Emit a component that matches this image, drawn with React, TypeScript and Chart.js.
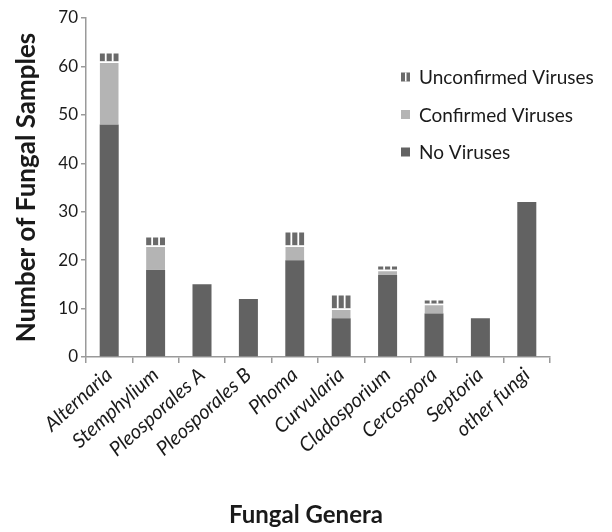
import React, { useEffect, useRef } from "react";
import { Chart, registerables } from "chart.js";

Chart.register(...registerables);

const categories = [
  "Alternaria",
  "Stemphylium",
  "Pleosporales A",
  "Pleosporales B",
  "Phoma",
  "Curvularia",
  "Cladosporium",
  "Cercospora",
  "Septoria",
  "other fungi",
];
const noViruses = [48, 18, 15, 12, 20, 8, 17, 9, 8, 32];
const confirmedViruses = [13, 5, 0, 0, 3, 2, 1, 2, 0, 0];
const unconfirmedViruses = [2, 2, 0, 0, 3, 3, 1, 1, 0, 0];
const yTicks = [0, 10, 20, 30, 40, 50, 60, 70];

const DARK = "#626262";
const LIGHT = "#b4b4b4";
const STRIPE = "#6a6a6a";
const AXIS = "#9a9a9a";
const FONT = "Lato, 'Open Sans', sans-serif";

const stripePlugin = {
  id: "stripes",
  afterDatasetsDraw(chart: any) {
    const meta = chart.getDatasetMeta(2);
    const ctx = chart.ctx;
    ctx.save();
    ctx.fillStyle = "#ffffff";
    meta.data.forEach((bar: any, i: number) => {
      if (!unconfirmedViruses[i]) return;
      const { x, y, base, width } = bar.getProps(["x", "y", "base", "width"], true);
      const left = x - width / 2;
      const gap = 1.8;
      const stripe = (width - 2 * gap) / 3;
      for (let k = 1; k <= 2; k++) {
        const gx = left + k * stripe + (k - 1) * gap;
        ctx.fillRect(gx, y, gap, base - y);
      }
    });
    ctx.restore();
  },
};

const legendPlugin = {
  id: "customLegend",
  afterDraw(chart: any) {
    const ctx = chart.ctx;
    const area = chart.chartArea;
    const items = [
      { label: "Unconfirmed Viruses", color: STRIPE, striped: true },
      { label: "Confirmed Viruses", color: LIGHT, striped: false },
      { label: "No Viruses", color: DARK, striped: false },
    ];
    const bx = area.left + 315;
    const tx = area.left + 333;
    const y0 = area.top + 59;
    const dy = 37.5;
    ctx.save();
    ctx.font = `19px ${FONT}`;
    ctx.textBaseline = "middle";
    ctx.textAlign = "left";
    items.forEach((it, i) => {
      const cy = y0 + i * dy;
      ctx.fillStyle = it.color;
      ctx.fillRect(bx, cy - 4.5, 9, 9);
      if (it.striped) {
        ctx.fillStyle = "#fff";
        ctx.fillRect(bx + 4, cy - 4.5, 1.5, 9);
      }
      ctx.fillStyle = "#1a1a1a";
      ctx.fillText(it.label, tx, cy + 1);
    });
    // x-axis title, centred on the chart
    ctx.font = `bold 24px ${FONT}`;
    ctx.textAlign = "center";
    ctx.textBaseline = "middle";
    ctx.fillStyle = "#1a1a1a";
    ctx.fillText("Fungal Genera", chart.width / 2, chart.height - 17);
    ctx.restore();
  },
};

export default function App() {
  const ref = useRef<HTMLCanvasElement>(null);
  useEffect(() => {
    document.body.style.margin = "0";
    const segBorder = { top: 1.5, bottom: 0, left: 0, right: 0 };
    const chart = new Chart(ref.current!, {
      type: "bar",
      data: {
        labels: categories,
        datasets: [
          {
            label: "No Viruses",
            data: noViruses,
            backgroundColor: DARK,
            borderColor: "#ffffff",
            borderWidth: 0,
            barPercentage: 0.41,
            categoryPercentage: 1,
          },
          {
            label: "Confirmed Viruses",
            data: confirmedViruses,
            backgroundColor: LIGHT,
            borderColor: "#ffffff",
            borderWidth: segBorder,
            borderSkipped: false,
            barPercentage: 0.41,
            categoryPercentage: 1,
          },
          {
            label: "Unconfirmed Viruses",
            data: unconfirmedViruses,
            backgroundColor: STRIPE,
            borderColor: "#ffffff",
            borderWidth: segBorder,
            borderSkipped: false,
            barPercentage: 0.41,
            categoryPercentage: 1,
          },
        ],
      },
      options: {
        responsive: false,
        animation: false,
        layout: { padding: { top: 18, right: 62, left: 0, bottom: 2 } },
        plugins: { legend: { display: false }, tooltip: { enabled: false } },
        scales: {
          x: {
            stacked: true,
            border: { color: AXIS, width: 1.5 },
            grid: {
              display: true,
              drawOnChartArea: false,
              drawTicks: true,
              tickLength: 6,
              color: AXIS,
              lineWidth: 1.5,
              offset: true,
            },
            afterFit(scale: any) {
              scale.height = 173;
            },
            ticks: {
              maxRotation: 42,
              minRotation: 42,
              color: "#1a1a1a",
              font: { family: FONT, size: 20, style: "italic" },
              padding: 0,
            },
            title: { display: false },
          },
          y: {
            stacked: true,
            min: 0,
            max: 70,
            border: { color: AXIS, width: 1.5 },
            grid: {
              display: true,
              drawOnChartArea: false,
              drawTicks: true,
              tickLength: 5,
              color: AXIS,
              lineWidth: 1.5,
            },
            afterFit(scale: any) {
              scale.width = 86;
            },
            afterBuildTicks(scale: any) {
              scale.ticks = yTicks.map((v) => ({ value: v }));
            },
            ticks: {
              color: "#1a1a1a",
              font: { family: FONT, size: 17 },
              padding: 3,
            },
            title: {
              display: true,
              text: "Number of Fungal Samples",
              color: "#1a1a1a",
              font: { family: FONT, size: 26, weight: "bold" },
              padding: { top: 11, bottom: 0 },
            },
          },
        },
      },
      plugins: [stripePlugin, legendPlugin],
    });
    return () => chart.destroy();
  }, []);
  return <canvas ref={ref} width={612} height={532} style={{ display: "block" }} />;
}
